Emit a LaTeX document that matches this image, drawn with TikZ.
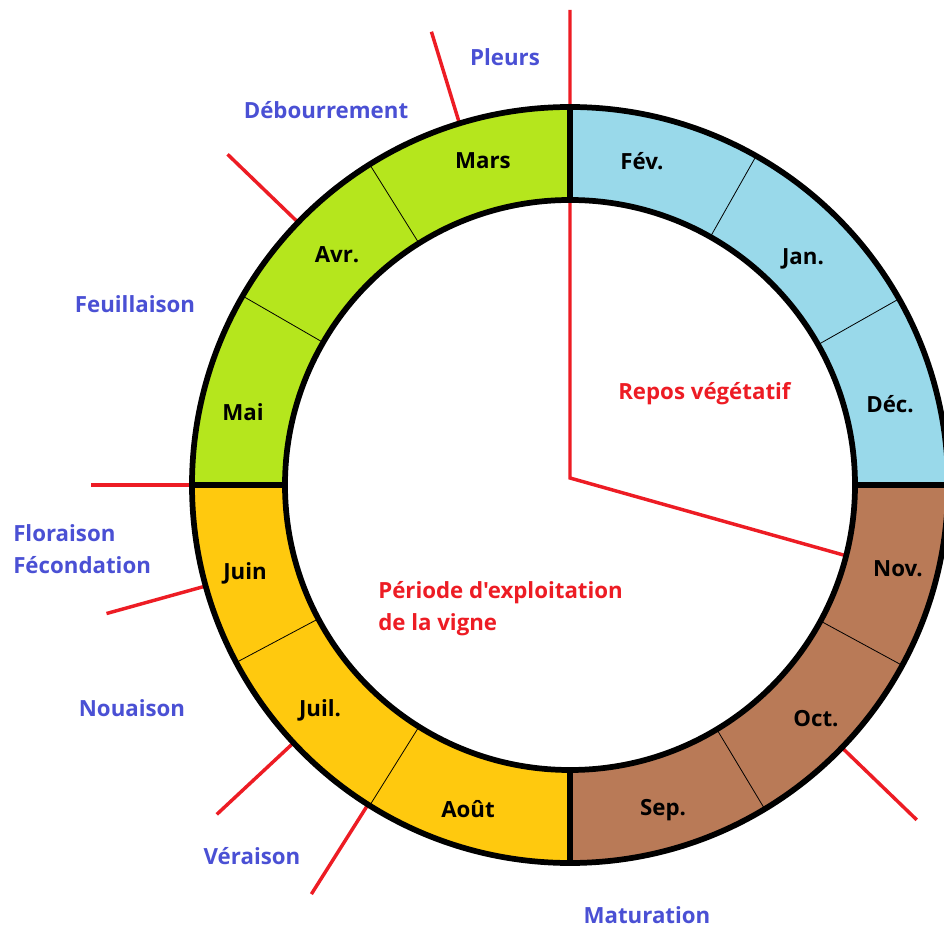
\documentclass[tikz,border=0pt]{standalone}
\usepackage{fontspec}
\setmainfont{Open Sans}[Ligatures=TeXOff]
\usepackage{tikz}
\definecolor{MyWinter}{HTML}{99D9EA}
\definecolor{MyAutumn}{HTML}{B97A57}
\definecolor{MySummer}{HTML}{FFC90E}
\definecolor{MySpring}{HTML}{B5E61D}
\definecolor{MyR}{HTML}{ED1C24}
\definecolor{MyB}{HTML}{4A50D4}
\def\outerR{378}
\def\innerR{285}
\newcommand{\ringpart}[3]{%
  \fill[#1] (#2:\outerR) arc[start angle=#2, end angle=#3, radius=\outerR]
    -- (#3:\innerR) arc[start angle=#3, end angle=#2, radius=\innerR] -- cycle;}
\tikzset{%
  month/.style={font=\fontsize{16.7}{23.5}\selectfont\bfseries, anchor=base, inner sep=0pt},
  stage/.style={month, text=MyB},
  period/.style={month, text=MyR, align=left, anchor=base west},
  tick/.style={MyR, line width=2.6pt},
  divider/.style={line width=0.6pt},
  border/.style={line width=4.3pt}
}
\begin{document}
\begin{tikzpicture}[x=0.75pt, y=0.75pt]
 \useasboundingbox (-570,-442) rectangle (374,485);

 % red lines, under the ring
 \coordinate (hub) at (0,7);
 \coordinate (top) at (0,475);
 \coordinate (nov) at (277,-71);
 \draw[tick, line join=miter] (top) -- (hub) -- (nov);
 \foreach \a/\r/\n in {107/474/t1, 136/476/t2, 180/479/t3, 195.5/481/t4, 223/483/t5, 237.7/484/t6, -44/482/t7} {
   \coordinate (\n-in) at (\a:370);
   \coordinate (\n-out) at (\a:\r);
   \draw[tick] (\n-in) -- (\n-out);
 }

 % seasons
 \ringpart{MyWinter}{0}{90}
 \ringpart{MySpring}{90}{180}
 \ringpart{MySummer}{180}{270}
 \ringpart{MyAutumn}{270}{360}

 % months, quarters
 \foreach \a in {29.5, 60.5, 122, 150, 208, 238, 301, 331.5}
   \draw[divider] (\a:\innerR) -- (\a:\outerR);
 \foreach \a in {0, 90, 180, 270}
   \draw[border] (\a:\innerR) -- (\a:\outerR);
 \draw[border] (0,0) circle (\outerR);
 \draw[border] (0,0) circle (\innerR);

 \node[month] (mars) at (-87,316) {Mars};
 \node[month] (fev) at (72,315) {Fév.};
 \node[month] (jan) at (233,220) {Jan.};
 \node[month] (dec) at (320,72) {Déc.};
 \node[month] (nov) at (328,-91) {Nov.};
 \node[month] (oct) at (246,-241) {Oct.};
 \node[month] (sep) at (93,-330) {Sep.};
 \node[month] (aout) at (-102,-332) {Août};
 \node[month] (juil) at (-250,-231) {Juil.};
 \node[month] (juin) at (-325,-94) {Juin};
 \node[month] (mai) at (-327,64) {Mai};
 \node[month] (avr) at (-233,222) {Avr.};

 \node[stage] (pleurs) at (-65,419) {Pleurs};
 \node[stage] (debourrement) at (-244,366) {Débourrement};
 \node[stage] (feuillaison) at (-435,172) {Feuillaison};
 \node[stage, align=left, anchor=base west] (floraison) at (-557,-88) {Floraison\\Fécondation};
 \node[stage] (nouaison) at (-438,-231) {Nouaison};
 \node[stage] (veraison) at (-318,-379) {Véraison};
 \node[stage] (maturation) at (77,-438) {Maturation};

 \node[period] (repos) at (48,85) {Repos végétatif};
 \node[period] (exploitation) at (-192,-145) {Période d'exploitation\\de la vigne};

\end{tikzpicture}
\end{document}
